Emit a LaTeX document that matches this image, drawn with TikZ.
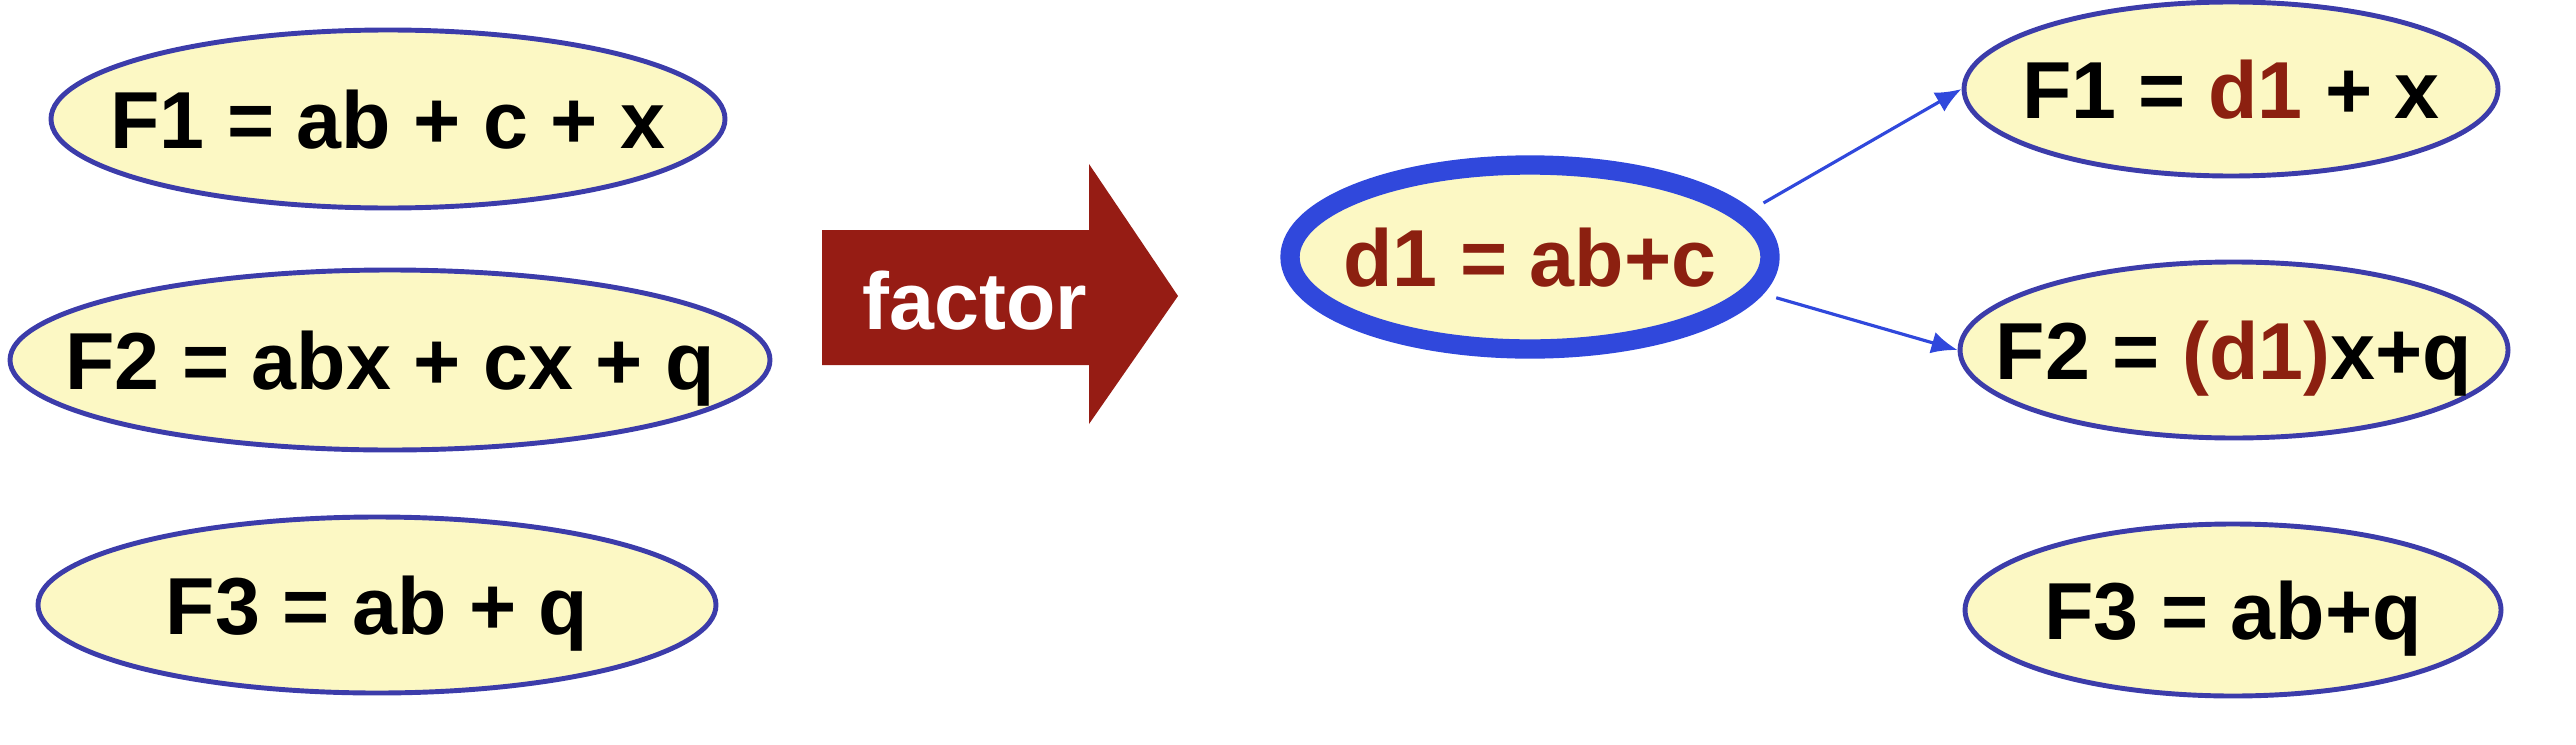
\documentclass[tikz,border=0pt]{standalone}
\usepackage{xcolor}
\usepackage{fontspec}
\setmainfont{Liberation Sans}
\usepackage{tikz}
\usetikzlibrary{shapes,arrows,arrows.meta,positioning}
\definecolor{exprfill}{RGB}{252, 248, 196}
\definecolor{exprline}{RGB}{60, 60, 170}
\definecolor{divblue}{RGB}{48, 72, 220}
\definecolor{divred}{RGB}{140, 32, 16}
\definecolor{factorred}{RGB}{150, 28, 20}

\begin{document}
\begin{tikzpicture}[
    expr/.style={draw=exprline, line width=1.4pt, ellipse, fill=exprfill, inner sep=0pt},
    every label/.style={font=\fontsize{23}{27}\selectfont\bfseries, text depth=0pt},
    link/.style={draw=divblue, line width=0.9pt, -{Latex[length=2.6mm, width=2.2mm]}, shorten <=4pt}
]
    \useasboundingbox (0,0) rectangle (25.76,7.44);

    % before factoring
    \node[expr, minimum width=6.74cm, minimum height=1.78cm, label=center:{F1 = ab + c + x}] (f1) at (3.88,6.25) {};
    \node[expr, minimum width=7.60cm, minimum height=1.80cm, label=center:{F2 = abx + cx + q}] (f2) at (3.90,3.84) {};
    \node[expr, minimum width=6.78cm, minimum height=1.76cm, label=center:{F3 = ab + q}] (f3) at (3.77,1.39) {};

    % factor arrow
    \fill[factorred] (8.22,5.14) -- (10.89,5.14) -- (10.89,5.80) -- (11.78,4.48)
        -- (10.89,3.20) -- (10.89,3.79) -- (8.22,3.79) -- cycle;
    \node[text=white, font=\fontsize{23}{27}\selectfont\bfseries, text depth=0pt] (fct) at (9.75,4.44) {factor};

    % new divisor
    \node[expr, draw=divblue, line width=5.5pt, minimum width=4.80cm, minimum height=1.84cm,
        label=center:{\color{divred}d1 = ab+c}] (d1) at (15.30,4.87) {};

    % after factoring
    \node[expr, minimum width=5.34cm, minimum height=1.74cm, label=center:{F1 = {\color{divred}d1} + x}] (nf1) at (22.31,6.55) {};
    \node[expr, minimum width=5.48cm, minimum height=1.76cm, label=center:{F2 = {\color{divred}(d1)}x+q}] (nf2) at (22.34,3.94) {};
    \node[expr, minimum width=5.36cm, minimum height=1.72cm, label=center:{F3 = ab+q}] (nf3) at (22.33,1.34) {};

    \draw[link] (d1.12) -- (nf1.west);
    \draw[link] (d1.-9) -- (nf2.west);
\end{tikzpicture}
\end{document}
